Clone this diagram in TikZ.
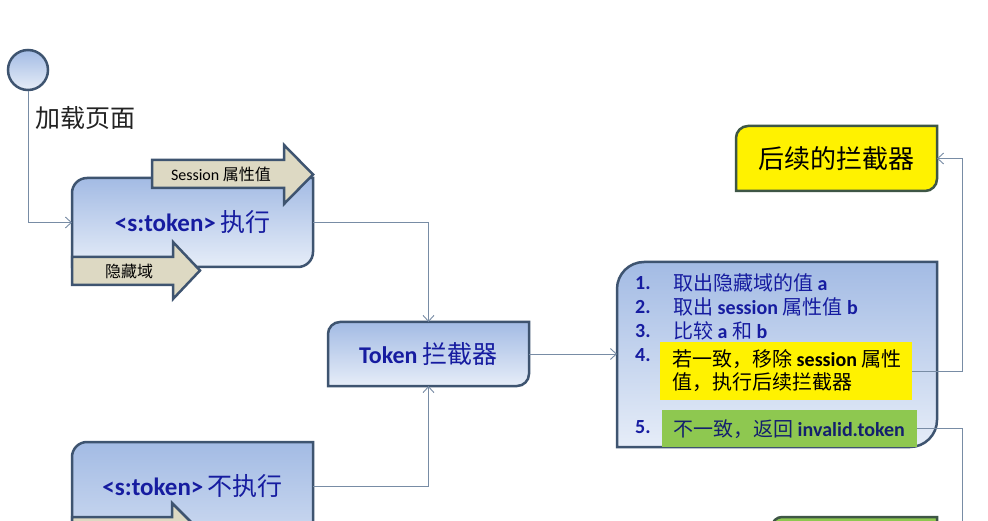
\documentclass[tikz,border=0pt]{standalone}
\usepackage{fontspec}
\setmainfont{Carlito}
\newfontfamily\cjk{Noto Sans CJK SC}
\usetikzlibrary{arrows.meta}
\definecolor{bordc}{RGB}{62,84,112}
\definecolor{connc}{RGB}{120,140,165}
\definecolor{gtop}{RGB}{163,187,228}
\definecolor{gbot}{RGB}{230,237,248}
\definecolor{beige}{RGB}{221,217,195}
\definecolor{txtblue}{RGB}{22,28,160}
\definecolor{ylbord}{RGB}{62,86,70}
\definecolor{grnfill}{RGB}{142,200,80}
\definecolor{grntxt}{RGB}{20,32,110}
\definecolor{labc}{RGB}{35,35,35}
\newcommand{\C}[1]{{\cjk #1}}
\newcommand{\tlbr}[5]{(#1,#4) -- (#1,{#2+#5}) .. controls (#1,{#2+0.448*#5}) and ({#1+0.448*#5},#2) .. ({#1+#5},#2) -- (#3,#2) -- (#3,{#4-#5}) .. controls (#3,{#4-0.448*#5}) and ({#3-0.448*#5},#4) .. ({#3-#5},#4) -- cycle}
\tikzset{
  boxsty/.style={draw=bordc, line width=2.5pt, top color=gtop, bottom color=gbot},
  yboxsty/.style={draw=ylbord, line width=2.5pt, fill=yellow},
  gboxsty/.style={draw=ylbord, line width=2.5pt, fill=grnfill},
  arrsty/.style={draw=bordc, line width=2.5pt, fill=beige, line join=miter},
  conn/.style={draw=connc, line width=0.9pt, -{Straight Barb[length=6pt,width=11pt]}},
  inv/.style={inner sep=0pt, outer sep=0pt},
  lst/.style={inner sep=0pt, anchor=west, font=\fontsize{20}{23}\selectfont, text=txtblue},
}
\begin{document}
\begin{tikzpicture}[x=1pt,y=-1pt]
\useasboundingbox (0,0) rectangle (988,521);
\clip (0,0) rectangle (988,521);
\fill[white] (0,0) rectangle (988,521);

% start circle and label
\node[circle, draw=bordc, line width=2.5pt, top color=gtop, bottom color=gbot, minimum size=40pt, inner sep=0pt] (start) at (28,70) {};
\node[inv, anchor=west, text=labc, font=\fontsize{25}{28}\selectfont\cjk] (load) at (35,118) {加载页面};

% box 1
\path[boxsty] \tlbr{72}{178}{313}{267}{15};
\node[inv, minimum width=241pt, minimum height=89pt] (b1) at (192.5,222.5)
  {\fontsize{25}{28}\selectfont\color{txtblue}\textbf{<s:token>}\,\C{执行}};
\path[arrsty] (152,160) -- (284,160) -- (284,145) -- (313,174.5) -- (284,204) -- (284,188) -- (152,188) -- cycle;
\node[inv, anchor=west, font=\fontsize{16}{18}\selectfont] (sess) at (171,174) {Session \C{属性值}};
\path[arrsty] (72,257) -- (173,257) -- (173,242) -- (200,270.5) -- (173,299) -- (173,285) -- (72,285) -- cycle;
\node[inv, anchor=west, font=\fontsize{16}{18}\selectfont\cjk] (hid) at (105,271) {隐藏域};

% token box
\path[boxsty] \tlbr{328}{322}{529}{386}{12};
\node[inv, minimum width=201pt, minimum height=64pt] (tok) at (428.5,354)
  {\fontsize{24}{28}\selectfont\color{txtblue}\textbf{Token} \C{\fontsize{25}{28}\selectfont 拦截器}};

% box 3
\path[boxsty] \tlbr{72}{442}{313}{600}{15};
\path[arrsty] (72,517) -- (172,517) -- (172,503) -- (201,532) -- (172,561) -- (172,547) -- (72,547) -- cycle;
\node[inv, minimum width=241pt, minimum height=88pt] (b3) at (192.5,486)
  {\fontsize{25}{28}\selectfont\color{txtblue}\textbf{<s:token>}\,\C{不执行}};

% big box
\path[boxsty] \tlbr{617}{262}{937}{447}{27};
\node[inv, minimum width=320pt, minimum height=185pt] (big) at (777,354.5) {};
\node[inv, fill=yellow, minimum width=252pt, minimum height=58pt] (y4) at (786,371) {};
\node[inv, fill=grnfill, minimum width=255pt, minimum height=37pt] (g5) at (789.5,428.5) {};
\node[lst] (n1) at (635,283) {\textbf{1.}};
\node[lst] (n2) at (635,307) {\textbf{2.}};
\node[lst] (n3) at (635,331) {\textbf{3.}};
\node[lst] (n4) at (635,355) {\textbf{4.}};
\node[lst] (n5) at (635,427) {\textbf{5.}};
\node[lst] (t1) at (673,283) {\C{取出隐藏域的值} \textbf{a}};
\node[lst] (t2) at (673,307) {\C{取出} \textbf{session} \C{属性值} \textbf{b}};
\node[lst] (t3) at (673,331) {\C{比较} \textbf{a} \C{和} \textbf{b}};
\node[lst, text=black, align=left] (t4) at (672,371) {\C{若一致，移除} \textbf{session} \C{属性}\\\C{值，执行后续拦截器}};
\node[lst, text=grntxt] (t5) at (673,429) {\C{不一致，返回} \textbf{invalid.token}};

% next interceptor box
\path[yboxsty] \tlbr{736}{126}{937}{191}{12};
\node[inv, minimum width=201pt, minimum height=65pt, font=\fontsize{26}{30}\selectfont\cjk] (nx) at (836.5,158.5) {后续的拦截器};

% bottom green box (cut off)
\path[gboxsty] \tlbr{772}{517}{937}{600}{10};
\coordinate (bot) at (962,530);

% connectors
\draw[conn] (start.south) |- (b1.west);
\draw[conn] (b1.east) -| (tok.north);
\draw[conn] (b3.east) -| (tok.south);
\draw[conn] (tok.east) -- (big.west |- tok.east);
\draw[conn] (y4.east) -- ++(50,0) |- (nx.east);
\draw[conn, -] (g5.east) -| (bot);
\end{tikzpicture}
\end{document}
